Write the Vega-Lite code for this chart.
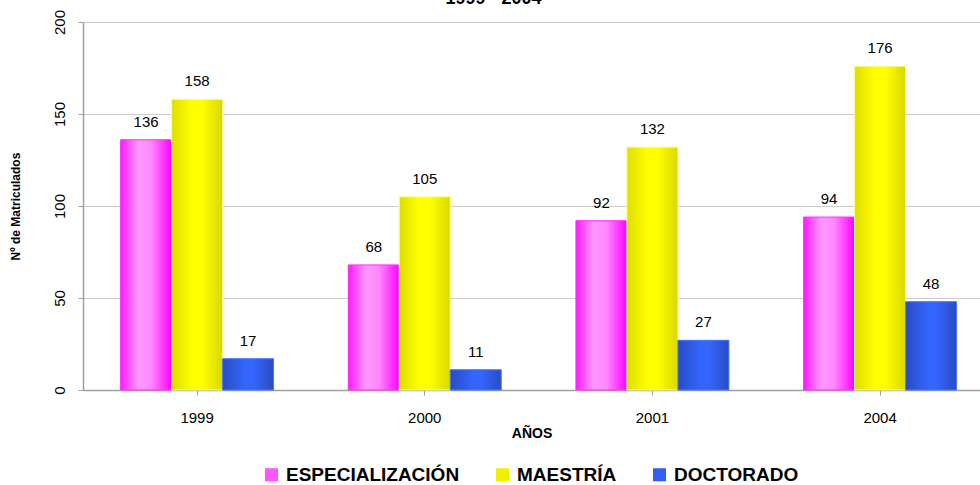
{
  "$schema": "https://vega.github.io/schema/vega-lite/v6.json",
  "width": 897,
  "height": 368,
  "autosize": {"type": "none"},
  "padding": {"left": 83, "top": 22, "right": 0, "bottom": 95},
  "background": "white",
  "config": {"font": "Liberation Sans", "view": {"stroke": null}},
  "title": {"text": "1999 - 2004", "fontSize": 18, "fontWeight": "bold", "color": "black", "offset": 9, "dy": 8, "anchor": "middle", "dx": -38},
  "data": {
    "values": [
      {"year": "1999", "tipo": "ESPECIALIZACIÓN", "value": 136},
      {"year": "1999", "tipo": "MAESTRÍA", "value": 158},
      {"year": "1999", "tipo": "DOCTORADO", "value": 17},
      {"year": "2000", "tipo": "ESPECIALIZACIÓN", "value": 68},
      {"year": "2000", "tipo": "MAESTRÍA", "value": 105},
      {"year": "2000", "tipo": "DOCTORADO", "value": 11},
      {"year": "2001", "tipo": "ESPECIALIZACIÓN", "value": 92},
      {"year": "2001", "tipo": "MAESTRÍA", "value": 132},
      {"year": "2001", "tipo": "DOCTORADO", "value": 27},
      {"year": "2004", "tipo": "ESPECIALIZACIÓN", "value": 94},
      {"year": "2004", "tipo": "MAESTRÍA", "value": 176},
      {"year": "2004", "tipo": "DOCTORADO", "value": 48}
    ]
  },
  "encoding": {
    "x": {
      "field": "year", "type": "nominal",
      "scale": {"paddingInner": 0.328, "paddingOuter": 0.134, "align": 0.616},
      "axis": {"title": "AÑOS", "labelAngle": 0, "labelFontSize": 15, "labelColor": "black", "labelPadding": 15, "tickSize": 5, "tickColor": "#a0a0a0", "domainColor": "#a0a0a0", "domainWidth": 1.5, "titleFontSize": 14, "titleFontWeight": "bold", "titleColor": "black", "titlePadding": 1}
    },
    "xOffset": {"field": "tipo", "type": "nominal", "scale": {"domain": ["ESPECIALIZACIÓN", "MAESTRÍA", "DOCTORADO"], "paddingInner": 0, "paddingOuter": 0}},
    "y": {
      "field": "value", "type": "quantitative",
      "scale": {"domain": [0, 200]},
      "axis": {"title": "Nº de Matriculados", "values": [0, 50, 100, 150, 200], "labelAngle": -90, "labelFontSize": 15, "labelColor": "black", "labelPadding": 11, "tickSize": 5, "tickColor": "#a0a0a0", "domainColor": "#a0a0a0", "domainWidth": 1.5, "gridColor": "#cccccc", "titleFontSize": 12, "titleFontWeight": "bold", "titleColor": "black", "titlePadding": 30}
    }
  },
  "layer": [
    {
      "mark": {"type": "bar"},
      "encoding": {
        "fill": {
          "field": "tipo", "type": "nominal",
          "scale": {"domain": ["ESPECIALIZACIÓN", "MAESTRÍA", "DOCTORADO"], "range": ["#ff55ff", "#f0f000", "#3060f0"]},
          "legend": {"title": null, "orient": "none", "legendX": 179, "legendY": 443, "direction": "horizontal", "labelFontSize": 19, "labelFontWeight": "bold", "labelColor": "black", "labelOffset": 5, "labelLimit": 400, "symbolType": "square", "symbolSize": 170, "symbolStrokeWidth": 0, "columnPadding": 33}
        }
      }
    },
    {
      "transform": [{"filter": "datum.tipo === 'ESPECIALIZACIÓN'"}],
      "mark": {"type": "bar", "stroke": "#ff33ff", "strokeWidth": 1, "fill": {"gradient": "linear", "x1": 0, "x2": 1, "y1": 0, "y2": 0, "stops": [{"offset": 0, "color": "#ff1aff"}, {"offset": 0.35, "color": "#ff99ff"}, {"offset": 0.6, "color": "#ff88ff"}, {"offset": 1, "color": "#ff00ff"}]}}
    },
    {
      "transform": [{"filter": "datum.tipo === 'MAESTRÍA'"}],
      "mark": {"type": "bar", "stroke": "#ffff99", "strokeWidth": 1, "fill": {"gradient": "linear", "x1": 0, "x2": 1, "y1": 0, "y2": 0, "stops": [{"offset": 0, "color": "#dede00"}, {"offset": 0.4, "color": "#ffff00"}, {"offset": 0.6, "color": "#ffff00"}, {"offset": 1, "color": "#d8d800"}]}}
    },
    {
      "transform": [{"filter": "datum.tipo === 'DOCTORADO'"}],
      "mark": {"type": "bar", "stroke": "#4a7aff", "strokeWidth": 1, "fill": {"gradient": "linear", "x1": 0, "x2": 1, "y1": 0, "y2": 0, "stops": [{"offset": 0, "color": "#2a4cc0"}, {"offset": 0.45, "color": "#3366ff"}, {"offset": 0.6, "color": "#3366ff"}, {"offset": 1, "color": "#2a4cc0"}]}}
    },
    {
      "mark": {"type": "text", "dy": -18, "fontSize": 15, "color": "black"},
      "encoding": {"text": {"field": "value", "type": "quantitative"}}
    }
  ]
}
